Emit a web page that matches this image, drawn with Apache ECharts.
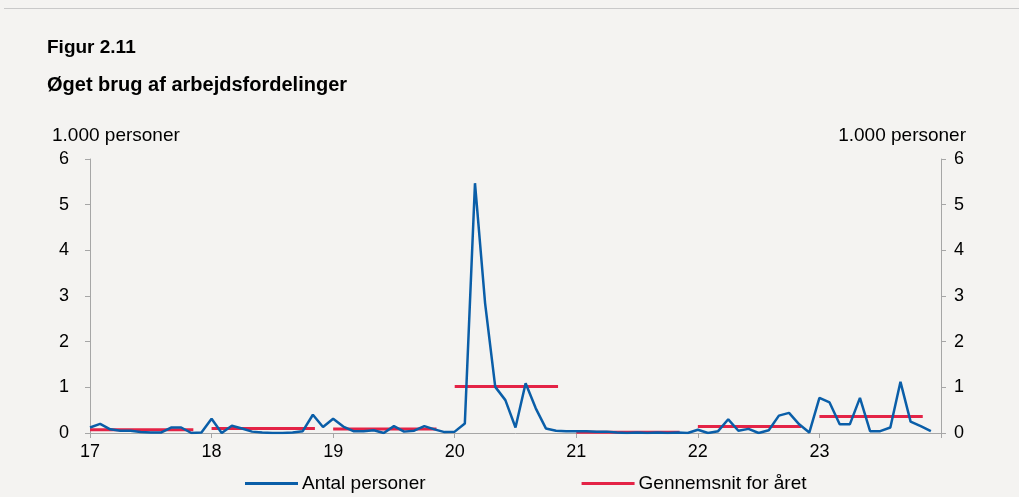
<!DOCTYPE html>
<html>
	<head>
		<meta charset="utf-8">
		<title></title>
		<script src="https://cdn.jsdelivr.net/npm/echarts@6/dist/echarts.min.js"></script>
		<style>
			body { margin: 0; background: #f4f3f1; }
		</style>
	</head>
	<body>
		<div id="main" style="width: 1019px;height:497px;"></div>
		<script>
			// maanedlige tal, jan 2017 - dec 2023 (1.000 personer)
			var years = ['17', '18', '19', '20', '21', '22', '23'];
			var antal2017 = [0.12, 0.2, 0.08, 0.05, 0.05, 0.02, 0.01, 0.01, 0.12, 0.12, 0.0, 0.01];
			var antal2018 = [0.31, 0.0, 0.16, 0.1, 0.03, 0.01, 0.0, 0.0, 0.01, 0.04, 0.4, 0.13];
			var antal2019 = [0.31, 0.14, 0.04, 0.04, 0.06, 0.0, 0.15, 0.03, 0.05, 0.15, 0.08, 0.02];
			var antal2020 = [0.03, 0.21, 5.47, 2.84, 1.01, 0.72, 0.12, 1.09, 0.54, 0.1, 0.05, 0.04];
			var antal2021 = [0.04, 0.04, 0.03, 0.03, 0.01, 0.0, 0.01, 0.0, 0.01, 0.0, 0.01, 0.0];
			var antal2022 = [0.07, 0.0, 0.04, 0.3, 0.05, 0.09, 0.0, 0.06, 0.38, 0.44, 0.19, 0.01];
			var antal2023 = [0.77, 0.67, 0.19, 0.19, 0.77, 0.04, 0.04, 0.12, 1.12, 0.25, 0.15, 0.04];
			// gennemsnit for hvert aar
			var gennemsnit = [0.07, 0.1, 0.09, 1.02, 0.015, 0.14, 0.36];

			var maaneder = [].concat(antal2017, antal2018, antal2019, antal2020, antal2021, antal2022, antal2023);
			var blaa = maaneder.map(function(v, i) { return [i, v]; });

			var font = 'Liberation Sans, Arial, sans-serif';
			var series = [{
				name: 'Antal personer',
				type: 'line',
				data: blaa,
				symbol: 'none',
				lineStyle: { color: '#0a5ea8', width: 2.5 },
				itemStyle: { color: '#0a5ea8' },
				z: 3
			}];
			// en roed streg pr. aar
			gennemsnit.forEach(function(v, k) {
				series.push({
					name: 'Gennemsnit for året',
					type: 'line',
					data: [[k * 12, v], [k * 12 + 10.2, v]],
					symbol: 'none',
					lineStyle: { color: '#e42346', width: 3 },
					itemStyle: { color: '#e42346' },
					z: 2
				});
			});

			var myChart = echarts.init(document.getElementById('main'));
			var option = {
				backgroundColor: '#f4f3f1',
				animation: false,
				title: [
					{ text: 'Figur 2.11', left: 47, top: 38, padding: 0, textStyle: { fontFamily: font, fontSize: 19, fontWeight: 'bold', color: '#000' } },
					{ text: 'Øget brug af arbejdsfordelinger', left: 47, top: 75, padding: 0, textStyle: { fontFamily: font, fontSize: 20, fontWeight: 'bold', color: '#000' } },
					{ text: '1.000 personer', left: 52, top: 126, padding: 0, textStyle: { fontFamily: font, fontSize: 19, fontWeight: 'normal', color: '#000' } },
					{ text: '1.000 personer', right: 53, top: 126, padding: 0, textStyle: { fontFamily: font, fontSize: 19, fontWeight: 'normal', color: '#000' } }
				],
				graphic: [{
					type: 'rect',
					shape: { x: 4, y: 8, width: 1015, height: 1 },
					style: { fill: '#c9c9c9' }
				}],
				legend: {
					data: ['Antal personer', 'Gennemsnit for året'],
					left: 240,
					top: 469,
					icon: 'rect',
					itemWidth: 53,
					itemHeight: 3,
					itemGap: 156,
					textStyle: { fontFamily: font, fontSize: 19, color: '#000', padding: [0, 0, 0, -1] },
				},
				grid: { left: 90, right: 78, top: 159, bottom: 64 },
				xAxis: {
					type: 'value',
					min: 0,
					max: 84,
					interval: 12,
					axisLine: { lineStyle: { color: '#a6a6a6' } },
					axisTick: { lineStyle: { color: '#a6a6a6' }, length: 5 },
					axisLabel: {
						fontFamily: font, fontSize: 18, color: '#000', margin: 10,
						formatter: function(v) { return v < 84 ? years[v / 12] : ''; }
					},
					splitLine: { show: false }
				},
				yAxis: [{
					type: 'value',
					min: 0,
					max: 6,
					interval: 1,
					axisLine: { show: true, lineStyle: { color: '#a6a6a6' } },
					axisTick: { show: true, lineStyle: { color: '#a6a6a6' }, length: 5 },
					axisLabel: { fontFamily: font, fontSize: 18, color: '#000', margin: 21 },
					splitLine: { show: false }
				}, {
					type: 'value',
					position: 'right',
					min: 0,
					max: 6,
					interval: 1,
					axisLine: { show: true, lineStyle: { color: '#a6a6a6' } },
					axisTick: { show: true, lineStyle: { color: '#a6a6a6' }, length: 5 },
					axisLabel: { fontFamily: font, fontSize: 18, color: '#000', margin: 13 },
					splitLine: { show: false }
				}],
				series: series
			};
			myChart.setOption(option);
		</script>
	</body>
</html>
